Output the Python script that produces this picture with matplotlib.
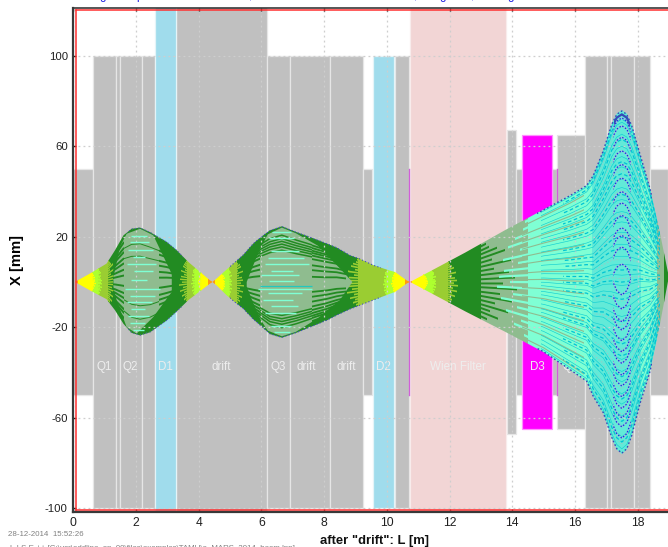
import matplotlib
matplotlib.use("Agg")
import matplotlib.pyplot as plt
import numpy as np
from matplotlib.patches import Polygon, Rectangle

plt.rcParams['font.family'] = ['Liberation Sans', 'DejaVu Sans']
plt.rcParams['axes.unicode_minus'] = False

# optical elements: start, end, half-height [m, m, mm]
gray_x0 = [0.00, 0.64, 1.36, 1.49, 2.19, 3.29, 6.17, 6.91, 8.18, 9.23, 10.25, 13.82, 14.13, 15.27, 15.44, 16.32, 17.02, 17.16, 17.88, 18.38]
gray_x1 = [0.62, 1.36, 1.49, 2.19, 2.61, 6.17, 6.91, 8.18, 9.23, 9.54, 10.71, 14.11, 14.30, 15.41, 16.31, 17.02, 17.16, 17.88, 18.38, 18.95]
gray_h  = [50, 100, 100, 100, 100, 122, 100, 100, 100, 50, 100, 67, 50, 50, 65, 100, 100, 100, 100, 50]
dipole_x0 = [2.62, 9.55]
dipole_x1 = [3.28, 10.23]
dipole_h = [122, 100]
wien_x = [10.74, 13.80]
d3_x = [14.32, 15.26]
d3_h = 65
thin_x = [10.72, 15.41]
thin_h = 50

labels = ['Q1', 'Q2', 'D1', 'drift', 'Q3', 'drift', 'drift', 'D2', 'Wien Filter', 'D3', 'Q4']
label_x = [0.98, 1.81, 2.93, 4.72, 6.52, 7.42, 8.70, 9.90, 12.28, 14.80, 15.85]
label_y = -37.5

# beam envelope, three sections
s1_x = [0.05, 0.53, 1.06, 1.33, 1.60, 1.86, 2.13, 2.45, 2.98, 3.30, 3.67, 4.36, 4.44]
s1_u = [0, 3.7, 8.1, 14, 20.6, 23.5, 24, 22, 17.7, 14, 8.8, 0.7, 0.1]
s1_l = [0, -3.7, -7.6, -12.5, -18.5, -22.5, -23.6, -22.2, -17, -13, -8, -0.7, -0.1]
s2_x = [4.44, 4.57, 4.89, 5.16, 5.42, 5.74, 5.95, 6.27, 6.65, 7.12, 7.44, 8.08, 8.40, 8.82, 9.14, 9.57, 10.10, 10.26, 10.63, 10.74]
s2_u = [0.1, 1.5, 5.5, 8.8, 12, 17, 19.5, 22.8, 24.6, 22, 20.4, 17, 15.2, 11.8, 10.2, 7.4, 5, 4.4, 0.7, 0]
s2_l = [-0.1, -1.5, -5.9, -9, -11.8, -16.5, -19, -23, -24.6, -22.4, -20.6, -17, -14.7, -12, -10.3, -8, -5.2, -4.4, -0.7, 0]
s3_x = [10.74, 11.5, 12.5, 13.77, 15.0, 15.84, 16.37, 16.58, 16.9, 17.17, 17.33, 17.49, 17.65, 17.81, 18.07, 18.39, 18.71, 18.97]
s3_u = [0, 5.6, 13, 22.9, 32, 38.3, 42.8, 47.2, 58.2, 70, 74.4, 75.9, 74.4, 69.2, 56.7, 41.3, 21.4, 3.7]
s3_l = [0, -5.6, -13, -22, -31, -38.9, -44, -50.7, -58, -69, -74, -76, -74, -68, -54, -39.7, -18.4, 0.8]

# density bands along the beam: band edges and colour names
ORG, YEL, GY, YG, FG, DS, AQ, MIX = '#ff9a10', '#ffff00', '#adff2f', '#9acd32', '#228b22', '#8fbc8f', '#7fffd4', '#62ead8'
s1_edges = [0.05, 0.16, 0.59, 0.80, 1.12, 3.62, 3.88, 4.10, 4.31, 4.44]
s1_cols = [ORG, YEL, GY, YG, FG, YG, GY, YEL, ORG]
s2_edges = [4.44, 4.52, 4.73, 4.95, 5.21, 9.09, 10.00, 10.26, 10.58, 10.74]
s2_cols = [ORG, YEL, GY, YG, FG, YG, GY, YEL, ORG]
s3_edges = [10.74, 10.79, 11.16, 11.43, 11.96, 13.00, 14.50, 16.55, 18.10, 18.60, 18.85, 18.97]
s3_cols = [ORG, YEL, GY, YG, FG, DS, AQ, MIX, AQ, DS, FG]

# inner high-population regions
core1_x = [1.28, 1.49, 1.70, 2.13, 2.55, 2.85, 3.14, 3.14, 2.55, 2.02, 1.70, 1.38, 1.28]
core1_y = [2, 15.5, 21.3, 23.5, 20.6, 12, 3.5, -4.4, -15.5, -22.8, -19.9, -8, -2.2]
core2_x = [5.53, 5.90, 6.20, 6.65, 7.10, 7.80, 8.50, 8.90, 8.50, 7.80, 7.10, 6.65, 6.20, 5.90, 5.53]
core2_y = [0, 13, 21, 24, 21.5, 16, 6, 0, -8, -16, -22, -24, -21.5, -15, -2]

# ray positions as fraction of the envelope
s1_green = [-0.86, -0.74, -0.66, -0.52, -0.41, -0.30, -0.14, 0.09, 0.22, 0.36, 0.47, 0.61, 0.70, 0.83]
s2_green = [-0.88, -0.81, -0.76, -0.70, -0.63, -0.55, -0.44, -0.33, -0.22, 0.12, 0.27, 0.38, 0.52, 0.60, 0.66, 0.71, 0.77, 0.83]
s2_band = [-0.82, -0.76, -0.71, -0.66, -0.60, 0.57, 0.63, 0.68, 0.73, 0.78, 0.84]
s3_sea = [-0.94, -0.77, -0.62, -0.50, -0.39, -0.25, -0.11, 0.02, 0.13, 0.28, 0.40, 0.53, 0.65, 0.76, 0.91]
s3_cyan = [-0.97, -0.90, -0.84, -0.78, -0.71, -0.65, -0.58, -0.52, -0.45, -0.40, -0.33, -0.27, -0.20, -0.15, -0.07, -0.02,
           0.04, 0.10, 0.15, 0.22, 0.29, 0.35, 0.41, 0.48, 0.55, 0.60, 0.67, 0.73, 0.79, 0.86, 0.93, 0.98]
s3_dash = [-0.93, -0.81, -0.68, -0.55, -0.43, -0.36, -0.23, -0.10, 0.00, 0.07, 0.19, 0.26, 0.38, 0.51, 0.63, 0.70, 0.83, 0.95]

# jagged band borders: ray fractions and how far each ray overshoots the border [m]
jag_f = [-0.92, -0.80, -0.70, -0.60, -0.49, -0.38, -0.27, -0.15, -0.05, 0.06, 0.17, 0.28, 0.39, 0.50, 0.61, 0.72, 0.82, 0.93]
jag_d = [0.05, 0.13, 0.08, 0.20, 0.11, 0.26, 0.15, 0.30, 0.18, 0.27, 0.22, 0.10, 0.24, 0.07, 0.17, 0.12, 0.06, 0.03]
s3_spike = [0.2, 0.55, 0.3, 0.85, 0.45, 1.0, 0.6, 1.15, 0.7, 1.1, 0.9, 0.4, 0.95, 0.35, 0.75, 0.5, 0.25, 0.15]

# horizontal streaks in the two cores: level, start, end
h1_y = [20.5, 17.5, 14, 11, 8, 5, 1, -3, -6, -9, -12, -15, -18, -21]
h1_a = [1.85, 1.80, 1.75, 1.90, 1.70, 1.95, 1.85, 1.65, 1.80, 1.70, 1.85, 1.75, 1.80, 1.90]
h1_b = [2.35, 2.40, 2.55, 2.30, 2.65, 2.55, 2.35, 2.75, 2.60, 2.50, 2.30, 2.40, 2.30, 2.25]
h2_y = [22, 19.5, 13.5, 10.5, 8, 5, 3, 0.5, -3, -5, -8, -10.5, -13.5, -19.5, -22]
h2_a = [6.35, 6.25, 6.30, 6.20, 6.10, 6.30, 6.00, 6.25, 5.90, 6.20, 6.05, 6.30, 6.10, 6.30, 6.40]
h2_b = [6.95, 7.05, 7.20, 7.35, 7.50, 7.00, 7.20, 7.05, 7.60, 7.30, 7.00, 7.15, 7.10, 6.95, 6.90]

# bright arcs near the second focus: apex levels above and below the axis
arc_up = [72.5, 69, 64, 58, 52, 46, 40, 35, 29.5, 24, 20.6, 15.5, 8]
arc_lo = [-5.8, -12, -17.6, -21.3, -26, -30.9, -36, -41.2, -46, -50.7, -55.9, -60, -64, -69]

ticks_x = [0, 2, 4, 6, 8, 10, 12, 14, 16, 18]
ticks_y = [-100, -60, -20, 20, 60, 100]
clip_chars = ['g', 'p', ',', ',', 'g', ',', 'g']
clip_px = [100, 136, 249, 414, 440, 471, 507]

W, H = 668, 547
fig = plt.figure(figsize=(W / 100, H / 100), dpi=100)
left, right, top, bottom = 73.3, 668, 8, 512
ax = fig.add_axes([left / W, 1 - bottom / H, (right - left) / W, (bottom - top) / H])
ax.set_xlim(0, (right - left) / 31.36)
ax.set_ylim(-101.6, 121)

GRAY = '#c0c0c0'
EDGE = '#e6e6e6'
for a, b, h in zip(gray_x0, gray_x1, gray_h):
    ax.add_patch(Rectangle((a, -h), b - a, 2 * h, fc=GRAY, ec=EDGE, lw=0.9, zorder=1))
for a, b, h in zip(dipole_x0, dipole_x1, dipole_h):
    ax.add_patch(Rectangle((a, -h), b - a, 2 * h, fc='#a0dcec', ec='#e4f4f8', lw=0.9, zorder=1))
ax.add_patch(Rectangle((wien_x[0], -122), wien_x[1] - wien_x[0], 244, fc='#f2d5d5', ec='#f8ecec', lw=0.9, zorder=1))
ax.add_patch(Rectangle((d3_x[0], -d3_h), d3_x[1] - d3_x[0], 2 * d3_h, fc='#ff00ff', ec='#ff90ff', lw=0.9, zorder=1))
for x in thin_x:
    ax.plot([x, x], [-thin_h, thin_h], color='#d060d8', lw=1, zorder=1.2)

ax.grid(True, color='#cecece', ls=(0, (1.5, 2.5)), lw=0.9, zorder=1.5)
ax.set_axisbelow(False)
for g in ax.get_xgridlines() + ax.get_ygridlines():
    g.set_zorder(1.5)

for s, x in zip(labels, label_x):
    ax.text(x, label_y, s, color='#eeeeee', fontsize=8.4, ha='center', va='center', zorder=1.8)


def section(xs, up, lo, edges, cols):
    poly = Polygon(list(zip(xs, up)) + list(zip(xs[::-1], lo[::-1])), closed=True, fc='none', ec='none', zorder=2)
    ax.add_patch(poly)
    for a, b, c in zip(edges[:-1], edges[1:], cols):
        r = Rectangle((a, -90), b - a + 0.01, 180, fc=c, ec='none', zorder=2)
        ax.add_patch(r)
        r.set_clip_path(poly)
    return poly


def rays(xs, up, lo, fracs, color, lw, x0, x1, z=2.5, **kw):
    u, l = np.array(up), np.array(lo)
    for f in fracs:
        ln, = ax.plot(xs, l + (f + 1) / 2 * (u - l), color=color, lw=lw, zorder=z, solid_capstyle='butt', **kw)
        ln.set_clip_path(Rectangle((x0, -90), x1 - x0, 180, transform=ax.transData))


def jagged(xs, up, lo, edge, color, sign, gain=1.0, lw=1.3, z=2.15):
    """Rays of a band's colour overshoot the border by a per-ray distance."""
    for f, d in zip(jag_f, jag_d):
        a, b = sorted((edge, edge + sign * gain * d))
        rays(xs, up, lo, [f], color, lw, a, b, z=z)


section(s1_x, s1_u, s1_l, s1_edges, s1_cols)
section(s2_x, s2_u, s2_l, s2_edges, s2_cols)
section(s3_x, s3_u, s3_l, s3_edges, s3_cols)

# borders: left half, colours reach to the right; right half, to the left (waist tips stay clean)
for e, c in zip(s1_edges[2:5], s1_cols[1:4]):
    jagged(s1_x, s1_u, s1_l, e, c, +1, gain=0.4 if c != YG else 0.8, lw=1.0)
for e, c in zip(s1_edges[5:8], s1_cols[5:8]):
    jagged(s1_x, s1_u, s1_l, e, c, -1, gain=0.4 if c != YG else 0.8, lw=1.0)
for e, c in zip(s2_edges[2:5], s2_cols[1:4]):
    jagged(s2_x, s2_u, s2_l, e, c, +1, gain=0.4 if c != YG else 0.8, lw=1.0)
for e, c in zip(s2_edges[5:8], s2_cols[5:8]):
    jagged(s2_x, s2_u, s2_l, e, c, -1, gain=0.4 if c != YG else 1.4, lw=1.2)
for e, c in zip(s3_edges[2:5], s3_cols[1:4]):
    jagged(s3_x, s3_u, s3_l, e, c, +1, gain=0.5 if c != YG else 1.0, lw=1.2)

ax.add_patch(Polygon(list(zip(core1_x, core1_y)), closed=True, fc=DS, ec='none', zorder=2.2))
ax.add_patch(Polygon(list(zip(core2_x, core2_y)), closed=True, fc=DS, ec='none', zorder=2.2))

# core texture
rays(s1_x, s1_u, s1_l, s1_green, FG, 1.4, 1.28, 1.62)
rays(s1_x, s1_u, s1_l, s1_green, FG, 1.4, 2.72, 3.20)
rays(s1_x, s1_u, s1_l, [-0.70, -0.45, 0.47, 0.70], FG, 0.7, 1.62, 2.72)
rays(s2_x, s2_u, s2_l, s2_green, FG, 1.4, 5.50, 5.95)
rays(s2_x, s2_u, s2_l, s2_green, FG, 1.3, 7.60, 8.70)
rays(s2_x, s2_u, s2_l, s2_band, FG, 1.1, 5.95, 7.60)
for y, a, b in zip(h1_y, h1_a, h1_b):
    ax.plot([a, b], [y, y], color=AQ, lw=1.0, zorder=2.6, solid_capstyle='butt')
for y, a, b in zip(h2_y, h2_a, h2_b):
    ax.plot([a, b], [y, y], color=AQ, lw=1.0, zorder=2.6, solid_capstyle='butt')
ax.plot([5.95, 7.60], [-2, -2], color='#20c8c0', lw=0.9, zorder=2.65, solid_capstyle='butt')

# third section: spikes of each band into the next
for f, d in zip(jag_f, s3_spike):
    rays(s3_x, s3_u, s3_l, [f], FG, 1.4, 12.9, 13.0 + d, z=2.3)
    rays(s3_x, s3_u, s3_l, [f + 0.03], AQ, 1.6, 14.55 - 0.9 * d, 14.6, z=2.4)
rays(s3_x, s3_u, s3_l, s3_sea, DS, 0.8, 14.3, 16.3, z=2.6)
rays(s3_x, s3_u, s3_l, s3_cyan, '#12cfd2', 0.45, 14.9, 18.6, z=2.7)
rays(s3_x, s3_u, s3_l, s3_dash, '#00c4d4', 0.9, 15.6, 18.7, z=2.72, ls=(0, (3, 2)))
rays(s3_x, s3_u, s3_l, s3_sea, '#9cc8c4', 0.6, 16.6, 18.7, z=2.65, ls=(0, (2, 2)))

# arcs: copies of the top/bottom dome shifted to their apex level
u3, l3 = np.array(s3_u), np.array(s3_l)
peak_u, peak_l = max(s3_u), min(s3_l)
for shape, peak, levels in ((u3, peak_u, arc_up), (l3, peak_l, arc_lo)):
    for lev in levels:
        for col, lw, ls, z in (('#a8c0dc', 0.9, '-', 2.8), ('#1a30e0', 0.9, (0, (1.2, 1.4)), 2.9)):
            ln, = ax.plot(s3_x, shape - (peak - lev), color=col, lw=lw, ls=ls, zorder=z)
            ln.set_clip_path(Rectangle((17.22, -90), 0.55, 180, transform=ax.transData))

rays(s3_x, s3_u, s3_l, [0.995, -0.995], '#3a48b8', 1.0, 14.8, 18.45, z=3, ls=(0, (1.2, 1.6)))
rays(s3_x, s3_u, s3_l, [0.975], '#3a48b8', 1.6, 17.25, 17.75, z=3)
rays(s1_x, s1_u, s1_l, [0.995, -0.995], '#5060b0', 0.8, 1.7, 3.5, z=3, ls=(0, (1, 2)))
rays(s2_x, s2_u, s2_l, [0.995, -0.995], '#4050c0', 0.8, 5.0, 9.8, z=3, ls=(0, (1, 2)))

# red inner frame
red_kw = dict(color='#ff3030', lw=1.1, zorder=4)
ax.plot([0.10, 0.10], [-101, 120.1], **red_kw)
ax.plot([0.10, ax.get_xlim()[1]], [120.1, 120.1], **red_kw)
ax.plot([0.10, ax.get_xlim()[1]], [-100.9, -100.9], **red_kw)

ax.set_xticks(ticks_x)
ax.set_yticks(ticks_y)
ax.tick_params(axis='x', direction='in', top=True, length=2.5, width=1, color='#202020', labelsize=8.7, pad=3.5)
ax.tick_params(axis='y', direction='in', length=2.5, width=1, color='#202020', labelsize=8.2, pad=4)
for t in ax.get_xticklabels() + ax.get_yticklabels():
    t.set_color('#202020')
ax.spines['right'].set_visible(False)
ax.spines['left'].set_linewidth(1.6)
ax.spines['top'].set_linewidth(1.2)
ax.spines['bottom'].set_linewidth(1.6)
for s in ['left', 'top', 'bottom']:
    ax.spines[s].set_color('#383838')
    ax.spines[s].set_zorder(5)

fig.text(17.5 / W, 1 - 260 / H, 'X [mm]', rotation=90, fontsize=10.6, fontweight='bold', ha='center', va='center')
fig.text(375 / W, 1 - 541 / H, 'after "drift": L [m]', fontsize=9.4, fontweight='bold', ha='center', va='center', color='#101010')
fig.text(8 / W, 1 - 535 / H, '28-12-2014  15:52:26', fontsize=5.7, color='#808080', ha='left', va='center')
fig.text(10 / W, 1 - 549 / H, 'L.I.S.E ++ [C:\\usr\\addline_on_00\\files\\examples\\TAMU\\a_MARS_2014_beam.lpp]',
         fontsize=5.7, color='#808080', ha='left', va='center')
for c, p in zip(clip_chars, clip_px):
    fig.text(p / W, 1 + 0.5 / H, c, fontsize=8.5, color='#2020e0', ha='left', va='baseline')

fig.savefig('out.png', dpi=100)
